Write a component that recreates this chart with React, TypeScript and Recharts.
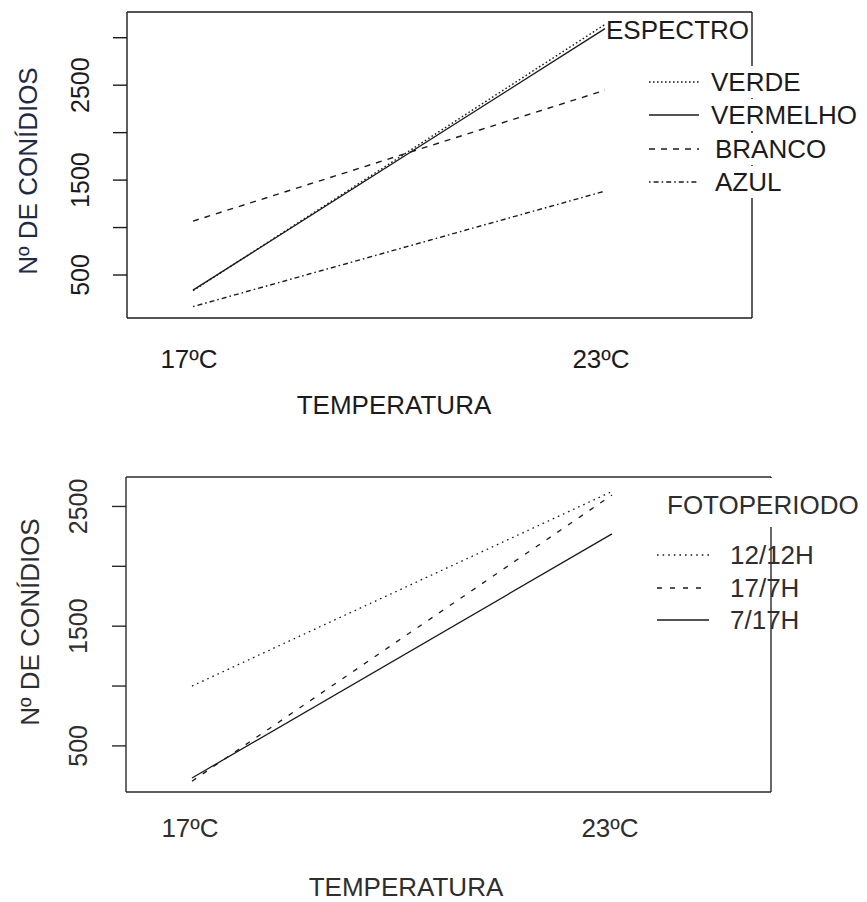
import React from 'react';
import { LineChart, Line, XAxis, YAxis, Legend } from 'recharts';

// ---------- data ----------
const categories = ['17ºC', '23ºC'];

const spectroNames = ['VERDE', 'VERMELHO', 'BRANCO', 'AZUL'];
const verde = [335, 3140];
const vermelho = [340, 3095];
const branco = [1068, 2447];
const azul = [167, 1384];
const spectroTicks = [500, 1000, 1500, 2000, 2500, 3000];

const fotoNames = ['12/12H', '17/7H', '7/17H'];
const foto1212 = [1000, 2625];
const foto177 = [205, 2595];
const foto717 = [232, 2271];
const fotoTicks = [500, 1000, 1500, 2000, 2500];

const FONT = '"Liberation Sans", Arial, Helvetica, sans-serif';
const INK = '#1b1b1b';

const topRows = categories.map((c, i) => ({
  cat: c,
  VERDE: verde[i],
  VERMELHO: vermelho[i],
  BRANCO: branco[i],
  AZUL: azul[i],
}));

const botRows = categories.map((c, i) => ({
  cat: c,
  '12/12H': foto1212[i],
  '17/7H': foto177[i],
  '7/17H': foto717[i],
}));

const topStyles: Record<string, string | undefined> = {
  VERDE: '1.6 2.4',
  VERMELHO: undefined,
  BRANCO: '6 6',
  AZUL: '1.6 3 5 3',
};
const botStyles: Record<string, string | undefined> = {
  '12/12H': '1.6 4',
  '17/7H': '5 8',
  '7/17H': undefined,
};

// ---------- ticks ----------
const YTick = (props: any) => {
  const { x, y, payload, dx, color } = props;
  const v = payload.value;
  if (v % 1000 !== 500) return <g />;
  const cx = x + dx;
  return (
    <text
      x={cx}
      y={y}
      transform={`rotate(-90, ${cx}, ${y})`}
      textAnchor="middle"
      dominantBaseline="central"
      fontFamily={FONT}
      fontSize={25}
      fill={color}
    >
      {v}
    </text>
  );
};

const XTick = (props: any) => {
  const { x, y, payload, dy, dx, color } = props;
  return (
    <text
      x={x + dx}
      y={y + dy}
      textAnchor="middle"
      dominantBaseline="central"
      fontFamily={FONT}
      fontSize={26}
      fill={color}
    >
      {payload.value}
    </text>
  );
};

// ---------- legend ----------
type LegendCfg = {
  title: string;
  titleX: number;
  titleY: number;
  titleBg: boolean;
  lineX1: number;
  lineX2: number;
  textX: number[];
  rowY: number[];
  names: string[];
  dashes: Record<string, string | undefined>;
  textBg: boolean;
  color: string;
};

const makeLegend = (cfg: LegendCfg) => () => (
  <div style={{ position: 'relative', width: '100%', height: '100%', fontFamily: FONT, color: cfg.color }}>
    <div
      style={{
        position: 'absolute',
        left: cfg.titleX,
        top: cfg.titleBg ? cfg.titleY - 27 : cfg.titleY - 15,
        paddingTop: cfg.titleBg ? 12 : 0,
        paddingBottom: cfg.titleBg ? 7 : 0,
        lineHeight: '30px',
        fontSize: 26,
        whiteSpace: 'nowrap',
        background: cfg.titleBg ? '#fff' : 'transparent',
      }}
    >
      {cfg.title}
    </div>
    {cfg.names.map((n, i) => (
      <React.Fragment key={n}>
        <svg
          style={{ position: 'absolute', left: cfg.lineX1, top: cfg.rowY[i] - 5 }}
          width={cfg.lineX2 - cfg.lineX1}
          height={10}
        >
          <line
            x1={0}
            y1={5}
            x2={cfg.lineX2 - cfg.lineX1}
            y2={5}
            stroke={INK}
            strokeWidth={1.4}
            strokeDasharray={cfg.dashes[n]}
          />
        </svg>
        <div
          style={{
            position: 'absolute',
            left: cfg.textX[i],
            top: cfg.rowY[i] - 16,
            lineHeight: '32px',
            fontSize: 26,
            whiteSpace: 'nowrap',
            background: cfg.textBg ? '#fff' : 'transparent',
          }}
        >
          {n}
        </div>
      </React.Fragment>
    ))}
  </div>
);

const topLegend = makeLegend({
  title: 'ESPECTRO',
  titleX: 606,
  titleY: 30,
  titleBg: false,
  lineX1: 649,
  lineX2: 699,
  textX: [711, 711, 715, 715],
  rowY: [81.7, 115, 149, 181.7],
  names: spectroNames,
  dashes: topStyles,
  textBg: true,
  color: INK,
});

const botLegend = makeLegend({
  title: 'FOTOPERIODO',
  titleX: 667,
  titleY: 65,
  titleBg: true,
  lineX1: 657,
  lineX2: 709,
  textX: [730, 730, 730],
  rowY: [115, 148, 180],
  names: fotoNames,
  dashes: botStyles,
  textBg: false,
  color: '#2e2e2e',
});

const AxisTitle = (props: any) => {
  const { tx, ty, rotate, text, color } = props;
  return (
    <text
      x={tx}
      y={ty}
      transform={rotate ? `rotate(-90, ${tx}, ${ty})` : undefined}
      textAnchor="middle"
      dominantBaseline="central"
      fontFamily={FONT}
      fontSize={26}
      fill={color}
    >
      {text}
    </text>
  );
};

export default function App() {
  return (
    <div style={{ position: 'absolute', left: 0, top: 0, width: 867, height: 902, background: '#fff' }}>
      {/* top chart */}
      <div style={{ position: 'absolute', left: 0, top: 0 }}>
        <LineChart width={867} height={440} data={topRows} margin={{ top: 11, right: 114, bottom: 62, left: 67 }}>
          <XAxis
            dataKey="cat"
            xAxisId="b"
            height={60}
            padding={{ left: 66, right: 147 }}
            stroke={INK}
            strokeWidth={1.4}
            tickLine={false}
            tickSize={0}
            tickMargin={0}
            tick={<XTick dy={41} dx={-4} color={INK} />}
            label={<AxisTitle tx={394} ty={405} text="TEMPERATURA" color={INK} />}
          />
          <XAxis
            xAxisId="t"
            orientation="top"
            dataKey="cat"
            height={1}
            padding={{ left: 66, right: 147 }}
            tick={false}
            tickLine={false}
            stroke={INK}
            strokeWidth={1.4}
          />
          <YAxis
            yAxisId="l"
            width={60}
            domain={[47, 3271]}
            allowDataOverflow
            ticks={spectroTicks}
            interval={0}
            tickSize={14}
            tickMargin={2}
            stroke={INK}
            strokeWidth={1.4}
            tick={<YTick dx={-31} color={INK} />}
            label={<AxisTitle tx={28} ty={171} rotate text="Nº DE CONÍDIOS" color="#1d2b48" />}
          />
          <YAxis
            yAxisId="r"
            orientation="right"
            width={1}
            domain={[47, 3271]}
            allowDataOverflow
            tick={false}
            tickLine={false}
            stroke={INK}
            strokeWidth={1.4}
          />
          {spectroNames.map((n) => (
            <Line
              key={n}
              xAxisId="b"
              yAxisId="l"
              dataKey={n}
              type="linear"
              stroke={INK}
              strokeWidth={1.4}
              strokeDasharray={topStyles[n]}
              dot={false}
              activeDot={false}
              isAnimationActive={false}
            />
          ))}
          {/* invisible series that binds the frame axes (top / right) */}
          <Line
            xAxisId="t"
            yAxisId="r"
            dataKey="VERMELHO"
            stroke="none"
            dot={false}
            activeDot={false}
            legendType="none"
            isAnimationActive={false}
          />
          <Legend
            layout="horizontal"
            verticalAlign="middle"
            align="center"
            content={topLegend}
            wrapperStyle={{ left: 0, top: 0, width: 867, height: 440, pointerEvents: 'none' }}
          />
        </LineChart>
      </div>

      {/* bottom chart */}
      <div style={{ position: 'absolute', left: 0, top: 440 }}>
        <LineChart width={867} height={462} data={botRows} margin={{ top: 36, right: 95, bottom: 50, left: 66 }}>
          <XAxis
            dataKey="cat"
            xAxisId="b"
            height={60}
            padding={{ left: 66, right: 159 }}
            stroke="#2a2a2a"
            strokeWidth={1.4}
            tickLine={false}
            tickSize={0}
            tickMargin={0}
            tick={<XTick dy={36} dx={-2} color="#2e2e2e" />}
            label={<AxisTitle tx={406} ty={447} text="TEMPERATURA" color="#2e2e2e" />}
          />
          <XAxis
            xAxisId="t"
            orientation="top"
            dataKey="cat"
            height={1}
            padding={{ left: 66, right: 159 }}
            tick={false}
            tickLine={false}
            stroke="#2a2a2a"
            strokeWidth={1.4}
          />
          <YAxis
            yAxisId="l"
            width={60}
            domain={[115, 2746]}
            allowDataOverflow
            ticks={fotoTicks}
            interval={0}
            tickSize={14}
            tickMargin={2}
            stroke="#2a2a2a"
            strokeWidth={1.4}
            tick={<YTick dx={-32} color="#2e2e2e" />}
            label={<AxisTitle tx={30} ty={182} rotate text="Nº DE CONÍDIOS" color="#2e2e2e" />}
          />
          <YAxis
            yAxisId="r"
            orientation="right"
            width={1}
            domain={[115, 2746]}
            allowDataOverflow
            tick={false}
            tickLine={false}
            stroke="#2a2a2a"
            strokeWidth={1.4}
          />
          {fotoNames.map((n) => (
            <Line
              key={n}
              xAxisId="b"
              yAxisId="l"
              dataKey={n}
              type="linear"
              stroke={INK}
              strokeWidth={1.3}
              strokeDasharray={botStyles[n]}
              dot={false}
              activeDot={false}
              isAnimationActive={false}
            />
          ))}
          <Line
            xAxisId="t"
            yAxisId="r"
            dataKey="7/17H"
            stroke="none"
            dot={false}
            activeDot={false}
            legendType="none"
            isAnimationActive={false}
          />
          <Legend
            layout="horizontal"
            verticalAlign="middle"
            align="center"
            content={botLegend}
            wrapperStyle={{ left: 0, top: 0, width: 867, height: 462, pointerEvents: 'none' }}
          />
        </LineChart>
      </div>
    </div>
  );
}
